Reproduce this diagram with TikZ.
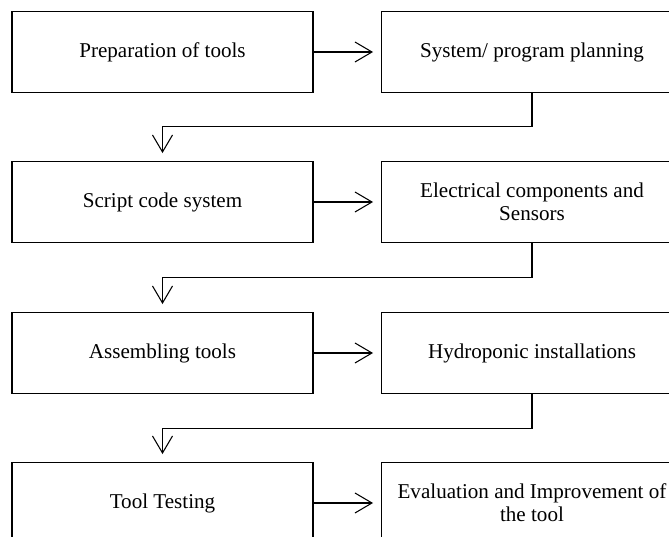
\documentclass[tikz,border=0pt]{standalone}
\usepackage{fontspec}
\setmainfont{Liberation Serif}
\usetikzlibrary{arrows.meta}
\tikzset{
  stagebox/.style={draw=black, line width=1.1pt, minimum width=6.02cm, minimum height=1.62cm,
    align=center, inner sep=2pt, font=\fontsize{12}{13}\selectfont},
  flow/.style={line width=0.6pt, -{Straight Barb[length=0.34cm, width=0.4cm, line width=0.6pt]}, shorten >=0.15cm}
}
\newcommand{\stage}[3]{%
 \node[stagebox] ({#1}) at ({#2}) {#3};%
}

\begin{document}
\begin{tikzpicture}
   \clip (0,0) rectangle (13.38,10.74);
   \stage{s1}{3.25,9.70}{Preparation of tools}
   \stage{s2}{10.64,9.70}{System/ program planning}
   \stage{s3}{3.25,6.70}{Script code system}
   \stage{s4}{10.64,6.70}{Electrical components and\\ Sensors}
   \stage{s5}{3.25,3.68}{Assembling tools}
   \stage{s6}{10.64,3.68}{Hydroponic installations}
   \stage{s7}{3.25,0.68}{Tool Testing}
   \stage{s8}{10.64,0.68}{Evaluation and Improvement of\\ the tool}
   % left to right
   \path[flow] (s1) edge (s2);
   \path[flow] (s3) edge (s4);
   \path[flow] (s5) edge (s6);
   \path[flow] (s7) edge (s8);
   % down to the next row
   \draw[flow] (s2.south) -- ++(0,-0.67) -| (s3.north);
   \draw[flow] (s4.south) -- ++(0,-0.68) -| (s5.north);
   \draw[flow] (s6.south) -- ++(0,-0.68) -| (s7.north);
\end{tikzpicture}
\end{document}
